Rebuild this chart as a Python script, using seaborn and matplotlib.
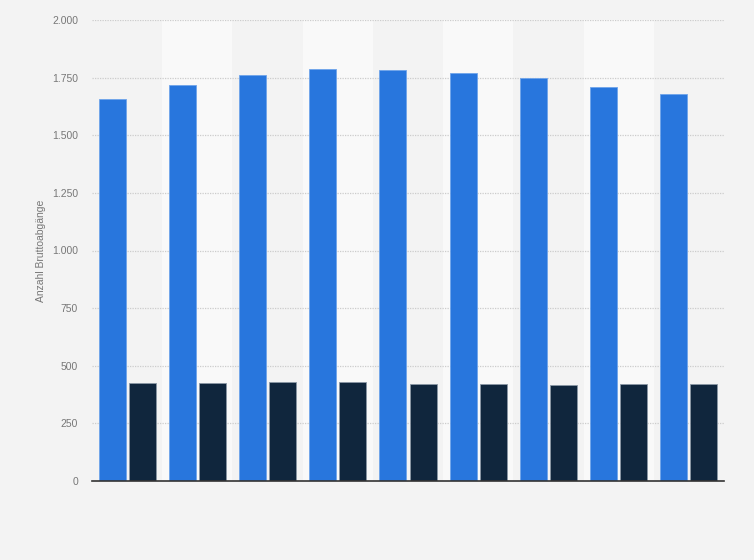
import matplotlib
matplotlib.use("Agg")
import matplotlib.pyplot as plt
from matplotlib.ticker import FuncFormatter, MultipleLocator
import pandas as pd
import seaborn as sns

# Werte (keine Achsenbeschriftung sichtbar)
categories = ["1", "2", "3", "4", "5", "6", "7", "8", "9"]
series_names = ["Reihe A", "Reihe B"]
values_a = [1657, 1718, 1760, 1787, 1783, 1771, 1748, 1709, 1679]
values_b = [424, 424, 429, 429, 422, 419, 415, 419, 419]

colors = ["#2876dd", "#10263d"]
edge_colors = ["#6fa4ea", "#8a97a5"]

sns.set_style("white")
plt.rcParams["font.family"] = ["Liberation Sans", "DejaVu Sans"]

df = pd.DataFrame({
    "Kategorie": categories * 2,
    "Serie": [series_names[0]] * len(categories) + [series_names[1]] * len(categories),
    "Wert": values_a + values_b,
})

fig = plt.figure(figsize=(7.54, 5.60), dpi=100, facecolor="#f3f3f3")
ax = fig.add_axes([92 / 754, 79 / 560, 632 / 754, 461 / 560])
ax.set_facecolor("#f3f3f3")

# abwechselnde Hintergrundstreifen
for i in range(len(categories)):
    if i % 2 == 1:
        ax.axvspan(i - 0.5, i + 0.5, color="#f9f9f9", zorder=0, lw=0)

sns.barplot(data=df, x="Kategorie", y="Wert", hue="Serie",
            palette=colors, width=0.855, gap=0.1, ax=ax,
            saturation=1, legend=False, zorder=3)

for container, ec in zip(ax.containers, edge_colors):
    for bar in container:
        bar.set_edgecolor(ec)
        bar.set_linewidth(0.6)

ax.set_xlim(-0.5, len(categories) - 0.5)
ax.set_ylim(0, 2000)
ax.yaxis.set_major_locator(MultipleLocator(250))
ax.yaxis.set_major_formatter(FuncFormatter(lambda v, _: f"{int(v):,}".replace(",", ".")))
ax.grid(axis="y", color="#cccccc", linestyle=(0, (1, 1)), linewidth=0.9, zorder=1)
ax.set_axisbelow(True)

ax.set_xticks(range(len(categories)))
ax.set_xticklabels([])
ax.tick_params(axis="x", length=0)
ax.tick_params(axis="y", length=0, labelsize=7.5, labelcolor="#777777", pad=10)
ax.set_xlabel("")
ax.set_ylabel("Anzahl Bruttoabgänge", fontsize=7.5, color="#777777", labelpad=4)

for side in ["top", "right", "left"]:
    ax.spines[side].set_visible(False)
ax.spines["bottom"].set_color("#333333")
ax.spines["bottom"].set_linewidth(1.2)
ax.spines["bottom"].set_zorder(5)

fig.savefig("out.png", dpi=100, facecolor=fig.get_facecolor())
plt.close(fig)
